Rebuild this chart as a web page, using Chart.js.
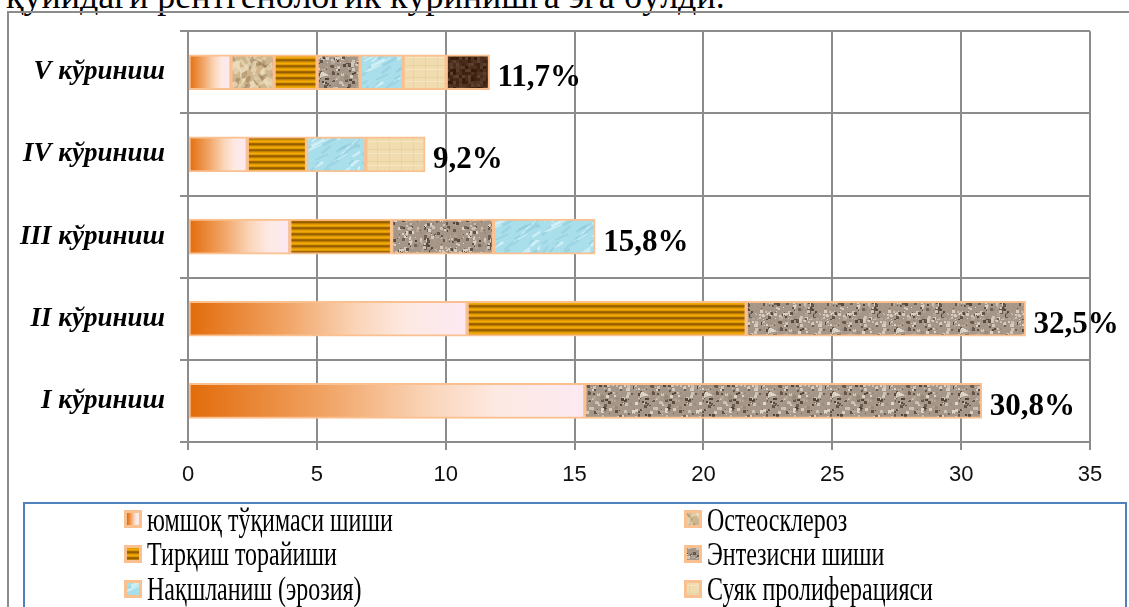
<!DOCTYPE html>
<html>
<head>
<meta charset="utf-8">
<script src="https://cdn.jsdelivr.net/npm/chart.js@4.4.0/dist/chart.umd.min.js"></script>
<style>
  html, body { margin: 0; padding: 0; background: #fff; overflow: hidden; }
  #wrap { position: relative; width: 1129px; height: 607px; overflow: hidden; }
  #frame { position: absolute; left: 7px; top: 11px; right: -10px; bottom: -10px;
           border-left: 2px solid #8c8c8c; border-top: 2px solid #8c8c8c; }
  #caption { position: absolute; top: -22px; left: 0;
             font: 36px/36px "Liberation Serif", serif; white-space: nowrap; color: #000; }
  #chart { position: absolute; left: 0; top: 0; }
</style>
</head>
<body>
<div id="wrap">
  <div id="caption">қуйидаги <span id="capWord">рентгенологик</span> кўринишга эга бўлди.</div>
  <div id="frame"></div>
  <canvas id="chart" width="1129" height="607"></canvas>
</div>
<script>
// categories, top to bottom
const categories = ['V кўриниш', 'IV кўриниш', 'III кўриниш', 'II кўриниш', 'I кўриниш'];

// segment values
const softTissue     = [1.67, 2.3, 3.95, 10.83, 15.4];
const osteosclerosis = [1.67, null, null, null, null];
const jointNarrowing = [1.67, 2.3, 3.95, 10.83, null];
const enthesis       = [1.67, null, 3.95, 10.84, 15.4];
const erosion        = [1.67, 2.3, 3.95, null, null];
const proliferation  = [1.67, 2.3, null, null, null];
const otherSigns     = [1.68, null, null, null, null];

const seriesNames = ['юмшоқ тўқимаси шиши', 'Остеосклероз', 'Тирқиш торайиши', 'Энтезисни шиши',
                     'Нақшланиш (эрозия)', 'Суяк пролиферацияси', ''];
const totalLabels = ['11,7%', '9,2%', '15,8%', '32,5%', '30,8%'];
const xTicks = { min: 0, max: 35, step: 5 };

const seriesValues = [softTissue, osteosclerosis, jointNarrowing, enthesis, erosion, proliferation, otherSigns];

// the caption above is cut by the top edge; line its second word up with the reference
const cap = document.getElementById('caption');
cap.style.left = (157 - document.getElementById('capWord').offsetLeft) + 'px';

// fixed-seed generator, only used for the fill textures
const seeded = (seed) => {
  let s = seed;
  return () => { s = (s * 16807) % 2147483647; return s / 2147483647; };
};

const tile = (w, h, draw) => {
  const c = document.createElement('canvas');
  c.width = w; c.height = h;
  draw(c.getContext('2d'), w, h);
  return c;
};

const jitter = (rgb, amt, rnd) => {
  const d = (rnd() - 0.5) * 2 * amt;
  return `rgb(${rgb.map(v => Math.max(0, Math.min(255, Math.round(v + d)))).join(',')})`;
};

const ctx = document.getElementById('chart').getContext('2d');

const tanTile = tile(48, 48, (g, w, h) => {
  const rnd = seeded(11);
  g.fillStyle = '#cfb58d';
  g.fillRect(0, 0, w, h);
  for (let i = 0; i < 90; i++) {
    const r = rnd();
    g.fillStyle = r < 0.4 ? 'rgba(140,110,75,0.45)' : 'rgba(240,225,195,0.55)';
    g.beginPath();
    g.ellipse(rnd() * w, rnd() * h, 2 + rnd() * 5, 1 + rnd() * 2, rnd() * Math.PI, 0, Math.PI * 2);
    g.fill();
  }
});

const stripeTile = tile(4, 6, (g, w, h) => {
  const gr = g.createLinearGradient(0, 0, 0, h);
  gr.addColorStop(0, '#7c4b00');
  gr.addColorStop(0.3, '#cf8a00');
  gr.addColorStop(0.55, '#f6ae0a');
  gr.addColorStop(0.8, '#d99200');
  gr.addColorStop(1, '#7c4b00');
  g.fillStyle = gr;
  g.fillRect(0, 0, w, h);
});

// granite: soft speckles on a warm grey
const graniteTile = tile(64, 64, (g, w, h) => {
  const rnd = seeded(7);
  g.fillStyle = '#a69688';
  g.fillRect(0, 0, w, h);
  for (let i = 0; i < 420; i++) {
    const v = rnd();
    g.fillStyle = v < 0.35 ? jitter([96, 84, 74], 18, rnd)
                : v < 0.7 ? jitter([212, 203, 192], 14, rnd)
                : jitter([168, 152, 138], 16, rnd);
    const s = 1 + Math.floor(rnd() * 3);
    g.fillRect(Math.floor(rnd() * w), Math.floor(rnd() * h), s, s);
  }
});

const blueTile = tile(60, 40, (g, w, h) => {
  const rnd = seeded(23);
  g.fillStyle = '#a9deeb';
  g.fillRect(0, 0, w, h);
  for (let i = 0; i < 40; i++) {
    g.strokeStyle = rnd() < 0.5 ? 'rgba(215,243,249,0.8)' : 'rgba(140,200,218,0.5)';
    g.lineWidth = 1 + rnd() * 2;
    const x = rnd() * w, y = rnd() * h;
    g.beginPath();
    g.moveTo(x, y);
    g.lineTo(x + 6 + rnd() * 8, y - 4 - rnd() * 6);
    g.stroke();
  }
});

const parchmentTile = tile(12, 12, (g, w, h) => {
  g.fillStyle = '#f0dcae';
  g.fillRect(0, 0, w, h);
  g.fillStyle = '#e8d2a2';
  g.fillRect(0, 5, w, 1);
  g.fillRect(5, 0, 1, h);
  g.fillStyle = '#f6e7c4';
  g.fillRect(0, 9, w, 1);
});

const brownTile = tile(48, 48, (g, w, h) => {
  const rnd = seeded(31);
  for (let y = 0; y < h; y += 3) {
    for (let x = 0; x < w; x += 3) {
      g.fillStyle = jitter([76, 46, 28], 22, rnd);
      g.fillRect(x, y, 3, 3);
    }
  }
});

const softTissueGradient = (x0, x1) => {
  const g = ctx.createLinearGradient(x0, 0, x1, 0);
  g.addColorStop(0, '#e26b0a');
  g.addColorStop(0.35, '#f1a465');
  g.addColorStop(0.6, '#fad4b7');
  g.addColorStop(0.78, '#fde9e2');
  g.addColorStop(1, '#fce9f3');
  return g;
};

const fills = [
  (c) => {
    const xs = c.chart.scales.x;
    if (!xs || c.raw == null) return '#f1a465';
    const x0 = xs.getPixelForValue(0), x1 = xs.getPixelForValue(c.raw);
    if (!Number.isFinite(x0) || !Number.isFinite(x1) || x1 === x0) return '#f1a465';
    return softTissueGradient(x0, x1);
  },
  ctx.createPattern(tanTile, 'repeat'),
  ctx.createPattern(stripeTile, 'repeat'),
  ctx.createPattern(graniteTile, 'repeat'),
  ctx.createPattern(blueTile, 'repeat'),
  ctx.createPattern(parchmentTile, 'repeat'),
  ctx.createPattern(brownTile, 'repeat'),
];

const gridColor = '#8c8c8c';
const barBorder = '#fac090';

// percent labels at the end of each stacked bar
const totalsPlugin = {
  id: 'totals',
  afterDatasetsDraw(chart) {
    const { ctx: g, scales: { x, y } } = chart;
    g.save();
    g.font = 'bold 31px "Liberation Serif", serif';
    g.fillStyle = '#000';
    g.textAlign = 'left';
    g.textBaseline = 'middle';
    categories.forEach((_, i) => {
      const sum = seriesValues.reduce((s, arr) => s + (arr[i] || 0), 0);
      g.fillText(totalLabels[i], x.getPixelForValue(sum) + 8, y.getPixelForValue(i) + 6);
    });
    g.restore();
  }
};

// two-column legend in a blue box under the axis
const boxLegend = {
  id: 'boxLegend',
  afterDraw(chart) {
    const g = chart.ctx;
    g.save();
    g.strokeStyle = '#4f81bd';
    g.lineWidth = 2;
    g.strokeRect(24, 503, 1102, 120);
    const cols = [124, 684];
    const markerRows = [519, 554, 589];
    const textRows = [522, 556, 591];
    chart.data.datasets.forEach((ds, i) => {
      if (!ds.label) return;
      const r = Math.floor(i / 2);
      const mx = cols[i % 2], my = markerRows[r] - 9;
      g.fillStyle = barBorder;
      g.fillRect(mx, my, 18, 18);
      g.fillStyle = i === 0 ? softTissueGradient(mx + 3, mx + 15) : fills[i];
      g.fillRect(mx + 3, my + 3, 12, 12);
      g.save();
      g.translate(mx + 23, textRows[r]);
      g.scale(1, 1.38);
      g.font = '24px "Liberation Serif", serif';
      g.fillStyle = '#000';
      g.textBaseline = 'middle';
      g.fillText(ds.label, 0, 0);
      g.restore();
    });
    g.restore();
  }
};

new Chart(ctx, {
  type: 'bar',
  data: {
    labels: categories,
    datasets: seriesValues.map((values, i) => ({
      label: seriesNames[i],
      data: values,
      backgroundColor: fills[i],
      borderColor: barBorder,
      borderWidth: 2,
      borderSkipped: false,
      barThickness: 35,
    })),
  },
  options: {
    indexAxis: 'y',
    responsive: false,
    animation: false,
    devicePixelRatio: 1,
    layout: { padding: { left: 0, top: 30, right: 39, bottom: 0 } },
    plugins: { legend: { display: false }, tooltip: { enabled: false } },
    scales: {
      x: {
        stacked: true,
        min: xTicks.min,
        max: xTicks.max,
        ticks: { stepSize: xTicks.step, color: '#111', padding: 12, font: { family: '"Liberation Sans", sans-serif', size: 22 } },
        grid: { color: gridColor, lineWidth: 2, tickLength: 8 },
        border: { color: gridColor, width: 2 },
        afterFit: (s) => { s.height = 165; },
      },
      y: {
        stacked: true,
        ticks: { color: '#000', padding: 15, font: { family: '"Liberation Serif", serif', size: 27, weight: 'bold', style: 'italic' } },
        grid: { color: gridColor, lineWidth: 2, tickLength: 8, offset: true },
        border: { color: gridColor, width: 2 },
        afterFit: (s) => { s.width = 188; },
      },
    },
  },
  plugins: [totalsPlugin, boxLegend],
});
</script>
</body>
</html>
